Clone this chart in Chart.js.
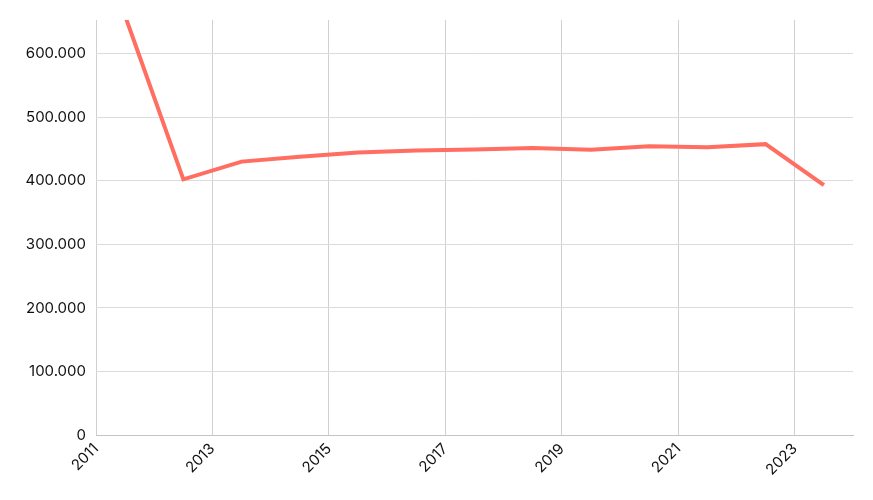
<!DOCTYPE html>
<html>
<head>
<meta charset="utf-8">
<script src="https://cdn.jsdelivr.net/npm/chart.js@4"></script>
<style>
  html, body { margin: 0; padding: 0; background: #fff; }
  #chartHolder { width: 873px; height: 500px; }
</style>
</head>
<body>
<div id="chartHolder"><canvas id="chart"></canvas></div>
<script>
// years (points sit in the middle of each year)
const years = [2011, 2012, 2013, 2014, 2015, 2016, 2017, 2018, 2019, 2020, 2021, 2022, 2023];
const values = [660000, 402500, 430500, 438000, 445000, 448000, 449500, 452000, 449000, 454500, 453000, 458000, 393500];
const yearTicks = [2011, 2013, 2015, 2017, 2019, 2021, 2023];
const valueTicks = [0, 100000, 200000, 300000, 400000, 500000, 600000];
const yearMin = 2011;
const yearMax = 2024;
const valueMax = 653500;

const points = years.map((year, i) => ({ x: year + 0.5, y: values[i] }));

new Chart(document.getElementById("chart"), {
  type: "line",
  data: {
    datasets: [{
      data: points,
      borderColor: "#ff6e61",
      borderWidth: 4,
      pointRadius: 0,
      tension: 0,
      fill: false
    }]
  },
  options: {
    responsive: true,
    maintainAspectRatio: false,
    animation: false,
    layout: { padding: { top: 20, right: 20, left: 0, bottom: 0 } },
    plugins: { legend: { display: false }, tooltip: { enabled: false } },
    scales: {
      x: {
        type: "linear",
        min: yearMin,
        max: yearMax,
        afterBuildTicks: (scale) => { scale.ticks = yearTicks.map((value) => ({ value })); },
        afterFit: (scale) => { scale.height = 65; },
        ticks: {
          minRotation: 45,
          maxRotation: 45,
          padding: 5,
          color: "#111",
          font: { family: "Inter", size: 15 },
          callback: (value) => String(value)
        },
        grid: { color: "#d0d0d0", drawTicks: false },
        border: { color: "#c4c4c4" }
      },
      y: {
        min: 0,
        max: valueMax,
        afterBuildTicks: (scale) => { scale.ticks = valueTicks.map((value) => ({ value })); },
        afterFit: (scale) => { scale.width = 96; },
        ticks: {
          padding: 10,
          color: "#111",
          font: { family: "Inter", size: 15 },
          callback: (value) => value.toLocaleString("de-DE")
        },
        grid: { color: "#dcdcdc", drawTicks: false },
        border: { display: false }
      }
    }
  }
});
</script>
</body>
</html>
